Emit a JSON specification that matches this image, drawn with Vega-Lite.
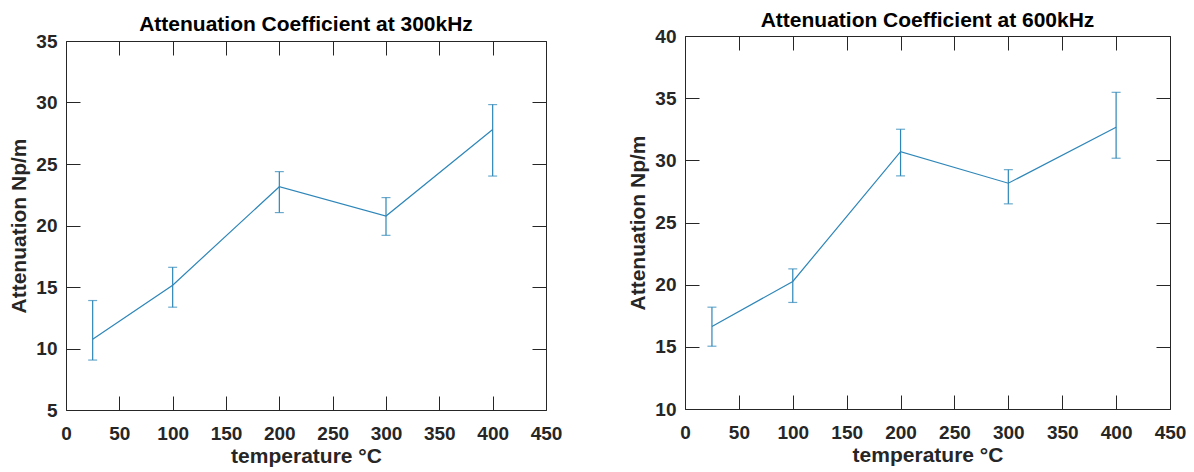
{
  "$schema": "https://vega.github.io/schema/vega-lite/v6.json",
  "background": "white",
  "padding": {"left": 8, "top": 10, "right": 5, "bottom": 5},
  "spacing": 65,
  "config": {
    "view": {"stroke": null},
    "font": "Liberation Sans",
    "axis": {
      "domainColor": "#262626",
      "tickColor": "#262626",
      "labelColor": "#262626",
      "titleColor": "#262626",
      "labelFont": "Liberation Sans",
      "titleFont": "Liberation Sans",
      "labelFontSize": 19,
      "labelFontWeight": "bold",
      "titleFontSize": 21,
      "titleFontWeight": "bold",
      "grid": false,
      "tickSize": -14,
      "labelFlush": false,
      "labelOverlap": false
    },
    "title": {"font": "Liberation Sans", "fontSize": 21, "fontWeight": "bold", "color": "#000000"}
  },
  "datasets": {
    "a300": [
      {"temp": 25, "att": 10.75, "lo": 9.06, "hi": 13.9},
      {"temp": 100, "att": 15.15, "lo": 13.36, "hi": 16.6},
      {"temp": 200, "att": 23.15, "lo": 21.05, "hi": 24.38},
      {"temp": 300, "att": 20.77, "lo": 19.2, "hi": 22.27},
      {"temp": 400, "att": 27.8, "lo": 24.02, "hi": 29.83}
    ],
    "a600": [
      {"temp": 25, "att": 16.64, "lo": 15.05, "hi": 18.19},
      {"temp": 100, "att": 20.26, "lo": 18.57, "hi": 21.27},
      {"temp": 200, "att": 30.7, "lo": 28.75, "hi": 32.5},
      {"temp": 300, "att": 28.16, "lo": 26.5, "hi": 29.25},
      {"temp": 400, "att": 32.66, "lo": 30.17, "hi": 35.47}
    ]
  },
  "hconcat": [
    {
      "width": 480,
      "height": 374,
      "title": {"text": "Attenuation Coefficient at 300kHz", "offset": -3},
      "data": {"name": "a300"},
      "layer": [
        {
          "mark": {"type": "line", "color": "#2e86b8", "strokeWidth": 1.2},
          "encoding": {
            "x": {"field": "temp", "type": "quantitative",
                  "scale": {"domain": [0, 450], "nice": false, "zero": false},
                  "axis": {"orient": "bottom", "values": [0, 50, 100, 150, 200, 250, 300, 350, 400, 450], "labelPadding": 28, "title": "temperature °C", "titlePadding": 2}},
            "y": {"field": "att", "type": "quantitative",
                  "scale": {"domain": [5, 35], "nice": false, "zero": false, "range": [374, 5]},
                  "axis": {"orient": "left", "values": [5, 10, 15, 20, 25, 30, 35], "labelPadding": 23, "title": "Attenuation Np/m", "titlePadding": 6}}
          }
        },
        {
          "mark": {"type": "rule", "color": "#2e86b8", "strokeWidth": 1.2},
          "encoding": {
            "x": {"field": "temp", "type": "quantitative",
                  "axis": {"orient": "top", "offset": -5, "values": [0, 50, 100, 150, 200, 250, 300, 350, 400, 450], "labels": false, "title": null}},
            "y": {"field": "lo", "type": "quantitative",
                  "axis": {"orient": "right", "values": [5, 10, 15, 20, 25, 30, 35], "labels": false, "title": null}},
            "y2": {"field": "hi"}
          }
        },
        {
          "mark": {"type": "tick", "orient": "horizontal", "size": 9, "thickness": 1.2, "color": "#2e86b8"},
          "encoding": {
            "x": {"field": "temp", "type": "quantitative", "axis": null},
            "y": {"field": "lo", "type": "quantitative", "axis": null}
          }
        },
        {
          "mark": {"type": "tick", "orient": "horizontal", "size": 9, "thickness": 1.2, "color": "#2e86b8"},
          "encoding": {
            "x": {"field": "temp", "type": "quantitative", "axis": null},
            "y": {"field": "hi", "type": "quantitative", "axis": null}
          }
        }
      ],
      "resolve": {"axis": {"x": "independent", "y": "independent"}}
    },
    {
      "width": 485,
      "height": 373,
      "title": {"text": "Attenuation Coefficient at 600kHz", "offset": -4},
      "data": {"name": "a600"},
      "layer": [
        {
          "mark": {"type": "line", "color": "#2e86b8", "strokeWidth": 1.2},
          "encoding": {
            "x": {"field": "temp", "type": "quantitative",
                  "scale": {"domain": [0, 450], "nice": false, "zero": false},
                  "axis": {"orient": "bottom", "values": [0, 50, 100, 150, 200, 250, 300, 350, 400, 450], "labelPadding": 28, "title": "temperature °C", "titlePadding": 2}},
            "y": {"field": "att", "type": "quantitative",
                  "scale": {"domain": [10, 40], "nice": false, "zero": false},
                  "axis": {"orient": "left", "values": [10, 15, 20, 25, 30, 35, 40], "labelPadding": 23, "title": "Attenuation Np/m", "titlePadding": 6}}
          }
        },
        {
          "mark": {"type": "rule", "color": "#2e86b8", "strokeWidth": 1.2},
          "encoding": {
            "x": {"field": "temp", "type": "quantitative",
                  "axis": {"orient": "top", "values": [0, 50, 100, 150, 200, 250, 300, 350, 400, 450], "labels": false, "title": null}},
            "y": {"field": "lo", "type": "quantitative",
                  "axis": {"orient": "right", "values": [10, 15, 20, 25, 30, 35, 40], "labels": false, "title": null}},
            "y2": {"field": "hi"}
          }
        },
        {
          "mark": {"type": "tick", "orient": "horizontal", "size": 9, "thickness": 1.2, "color": "#2e86b8"},
          "encoding": {
            "x": {"field": "temp", "type": "quantitative", "axis": null},
            "y": {"field": "lo", "type": "quantitative", "axis": null}
          }
        },
        {
          "mark": {"type": "tick", "orient": "horizontal", "size": 9, "thickness": 1.2, "color": "#2e86b8"},
          "encoding": {
            "x": {"field": "temp", "type": "quantitative", "axis": null},
            "y": {"field": "hi", "type": "quantitative", "axis": null}
          }
        }
      ],
      "resolve": {"axis": {"x": "independent", "y": "independent"}}
    }
  ]
}
